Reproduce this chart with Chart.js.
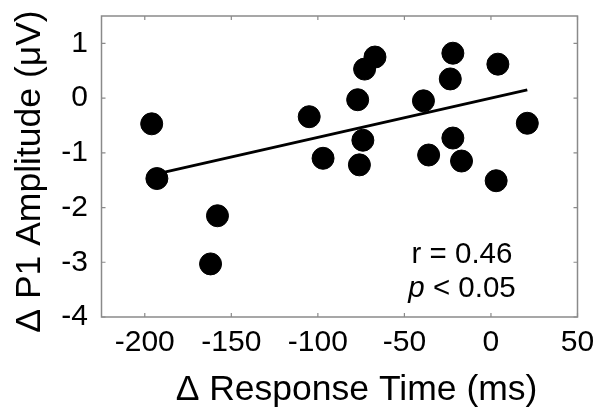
<!DOCTYPE html>
<html>
<head>
<meta charset="utf-8">
<script src="https://cdn.jsdelivr.net/npm/chart.js@4"></script>
<style>
  html, body { margin: 0; padding: 0; background: #fff; }
  #wrap { width: 602px; height: 419px; position: relative; }
</style>
</head>
<body>
<div id="wrap"><canvas id="c" width="602" height="419"></canvas></div>
<script>
// Data
const rtDelta = [-196, -193, -158, -162, -105, -97, -77, -73, -67, -74, -76, -39, -36, -22, -23.5, -22, -17, 4, 3, 21];
const p1Delta = [-0.47, -1.47, -2.15, -3.03, -0.34, -1.10, -0.03, 0.53, 0.75, -0.77, -1.22, -0.05, -1.04, 0.82, 0.35, -0.73, -1.15, 0.62, -1.51, -0.46];
const fitX = [-193, 21];
const fitY = [-1.385, 0.15];
const xTicks = [-200, -150, -100, -50, 0, 50];
const yTicks = [-4, -3, -2, -1, 0, 1];
const xTitle = 'Δ Response Time (ms)';
const yTitle = 'Δ P1 Amplitude (μV)';
const statLines = ['r = 0.46', 'p < 0.05'];

const FONT = '"Liberation Sans", Arial, Helvetica, sans-serif';
const FRAME = '#8a8a8a';

const framePlugin = {
  id: 'frame',
  afterDraw(chart) {
    const ctx = chart.ctx;
    const a = chart.chartArea;
    const xs = chart.scales.x, ys = chart.scales.y;
    ctx.save();
    ctx.strokeStyle = FRAME;
    ctx.lineWidth = 1.5;
    ctx.strokeRect(a.left, a.top, a.right - a.left, a.bottom - a.top);
    ctx.lineWidth = 1.2;
    const tl = 4;
    ctx.beginPath();
    xTicks.forEach(v => {
      const px = xs.getPixelForValue(v);
      ctx.moveTo(px, a.bottom); ctx.lineTo(px, a.bottom - tl);
      ctx.moveTo(px, a.top); ctx.lineTo(px, a.top + tl);
    });
    yTicks.forEach(v => {
      const py = ys.getPixelForValue(v);
      ctx.moveTo(a.left, py); ctx.lineTo(a.left + tl, py);
      ctx.moveTo(a.right, py); ctx.lineTo(a.right - tl, py);
    });
    ctx.stroke();

    // axis titles
    ctx.fillStyle = '#000';
    ctx.font = '35.5px ' + FONT;
    ctx.textAlign = 'center';
    ctx.textBaseline = 'alphabetic';
    ctx.fillText(xTitle, 356.5, 400);
    ctx.save();
    ctx.translate(40, 171.5);
    ctx.rotate(-Math.PI / 2);
    ctx.fillText(yTitle, 0, 0);
    ctx.restore();

    // statistics annotation
    const cx = 462;
    ctx.font = '29.5px ' + FONT;
    ctx.textAlign = 'center';
    ctx.fillText(statLines[0], cx, 262.5);
    // second line with italic p
    const pPart = statLines[1].slice(0, 1);
    const rest = statLines[1].slice(1);
    ctx.font = 'italic 29.5px ' + FONT;
    const w1 = ctx.measureText(pPart).width;
    ctx.font = '29.5px ' + FONT;
    const w2 = ctx.measureText(rest).width;
    const start = cx - (w1 + w2) / 2;
    ctx.textAlign = 'left';
    ctx.font = 'italic 29.5px ' + FONT;
    ctx.fillText(pPart, start, 296.5);
    ctx.font = '29.5px ' + FONT;
    ctx.fillText(rest, start + w1, 296.5);
    ctx.restore();
  }
};

new Chart(document.getElementById('c'), {
  type: 'scatter',
  data: {
    datasets: [
      {
        type: 'line',
        data: fitX.map((x, i) => ({ x: x, y: fitY[i] })),
        borderColor: '#000',
        borderWidth: 3,
        pointRadius: 0,
        fill: false,
        order: 1
      },
      {
        data: rtDelta.map((x, i) => ({ x: x, y: p1Delta[i] })),
        pointRadius: 11,
        pointBackgroundColor: '#000',
        pointBorderColor: '#000',
        pointBorderWidth: 1,
        order: 2
      }
    ]
  },
  options: {
    responsive: false,
    animation: false,
    devicePixelRatio: 1,
    layout: { padding: { top: 16, right: 24.5, left: 0, bottom: 0 } },
    plugins: { legend: { display: false }, tooltip: { enabled: false } },
    scales: {
      x: {
        type: 'linear',
        min: -225, max: 50,
        afterBuildTicks(s) { s.ticks = xTicks.map(v => ({ value: v })); },
        afterFit(s) { s.height = 102; s.paddingLeft = 0; s.paddingRight = 0; },
        grid: { display: false, drawTicks: false },
        border: { display: false },
        ticks: { color: '#000', padding: 8, font: { family: FONT, size: 30 }, maxRotation: 0, autoSkip: false }
      },
      y: {
        type: 'linear',
        min: -4, max: 1.5,
        afterBuildTicks(s) { s.ticks = yTicks.map(v => ({ value: v })); },
        afterFit(s) { s.width = 101.5; s.paddingTop = 0; s.paddingBottom = 0; },
        grid: { display: false, drawTicks: false },
        border: { display: false },
        ticks: { color: '#000', padding: 13.5, font: { family: FONT, size: 30 }, autoSkip: false }
      }
    }
  },
  plugins: [framePlugin]
});
</script>
</body>
</html>
